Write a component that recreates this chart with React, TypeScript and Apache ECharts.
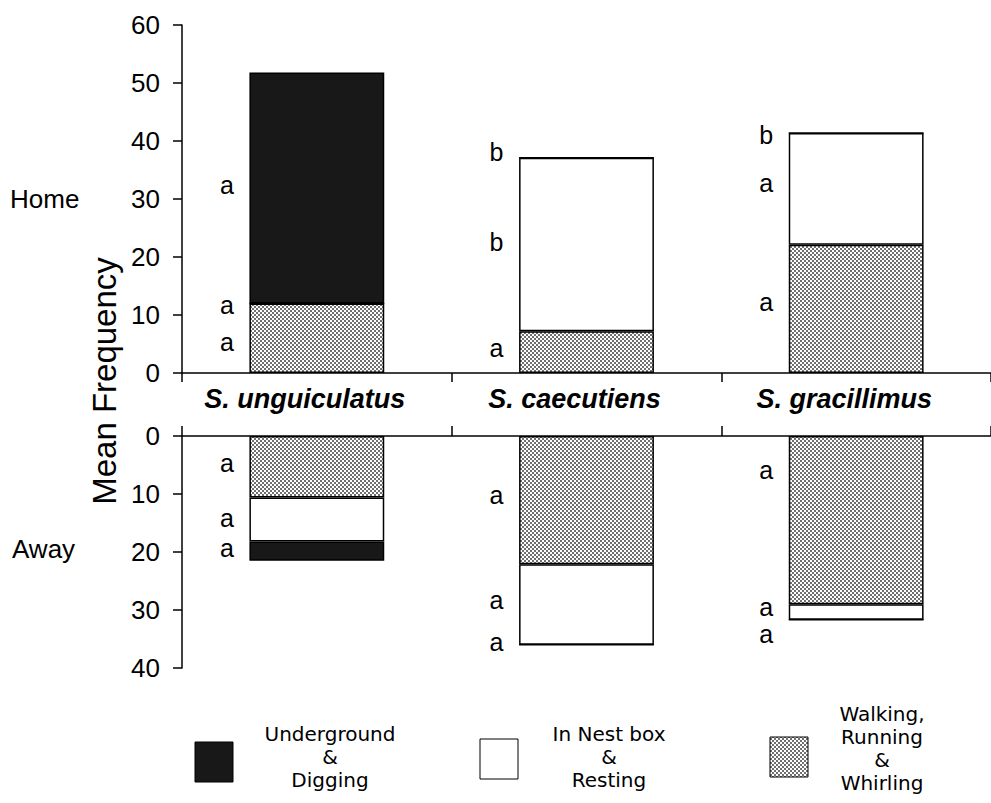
import React, { useEffect, useRef } from 'react';
import * as echarts from 'echarts';

// ---- data ----
const species = ['S. unguiculatus', 'S. caecutiens', 'S. gracillimus'];

// Home (upper panel), stacked from 0 upward
const homeWalking = [12.0, 7.2, 22.1];
const homeNest = [0, 29.9, 19.3];
const homeUnderground = [39.8, 0, 0];

// Away (lower panel), stacked from 0 downward
const awayWalking = [10.6, 22.1, 29.0];
const awayNest = [7.6, 13.9, 2.7];
const awayUnderground = [3.3, 0, 0];

const homeMax = 60;
const awayMax = 40;
const tickStep = 10;

// significance letters and the value where each is placed
const homeLetters = [['a', 'a', 'a'], ['b', 'b', 'a'], ['b', 'a', 'a']];
const homeLetterPos = [[32.4, 11.7, 5.3], [38.1, 22.6, 4.3], [41.0, 32.8, 12.2]];
const awayLetters = [['a', 'a', 'a'], ['a', 'a', 'a'], ['a', 'a', 'a']];
const awayLetterPos = [[4.7, 14.1, 19.3], [10.2, 28.3, 35.5], [5.9, 29.5, 34.2]];

const legendLabels = ['Underground\n&\nDigging', 'In Nest box\n&\nResting', 'Walking,\nRunning\n&\nWhirling'];

export default function App() {
  const ref = useRef<HTMLDivElement>(null);

  useEffect(() => {
    if (!ref.current) return;
    const chart = echarts.init(ref.current, null, { renderer: 'svg' });

    const c = document.createElement('canvas');
    c.width = 4;
    c.height = 4;
    const ctx = c.getContext('2d')!;
    ctx.fillStyle = '#ffffff';
    ctx.fillRect(0, 0, 4, 4);
    ctx.fillStyle = '#707070';
    ctx.fillRect(0, 0, 2, 2);
    ctx.fillRect(2, 2, 2, 2);
    const stipple: any = { image: c, repeat: 'repeat' };
    const black = '#181818';

    const axisLine = { show: true, lineStyle: { color: '#000', width: 1.5 } };
    const font = 'Liberation Sans';

    const mkBar = (name: string, data: number[], fill: any, grid: number, stack: string) => ({
      type: 'bar',
      barWidth: '50%',
      name,
      data,
      xAxisIndex: grid,
      yAxisIndex: grid,
      stack,
      itemStyle: { color: fill, borderColor: '#000', borderWidth: 1.5 },
    });

    const letterData = (letters: string[][], pos: number[][]) => {
      const out: any[] = [];
      letters.forEach((row, i) => {
        row.forEach((l, j) => out.push({ value: [species[i], pos[i][j]], letter: l }));
      });
      return out;
    };

    const mkLetters = (letters: string[][], pos: number[][], grid: number) => ({
      type: 'scatter',
      xAxisIndex: grid,
      yAxisIndex: grid,
      symbolSize: 1,
      itemStyle: { color: '#fff', opacity: 0 },
      data: letterData(letters, pos),
      label: {
        show: true,
        position: 'inside',
        offset: [-90, 0],
        formatter: (p: any) => p.data.letter,
        fontSize: 25,
        lineHeight: 20,
        fontFamily: font,
        color: '#000',
        opacity: 1,
        textBorderWidth: 0,
      },
      emphasis: { disabled: true },
      silent: true,
    });

    const legendX = [195, 480, 770];
    const legendBoxY = [742, 739, 737];
    const legendTextX = [330, 609, 882];
    const legendTextY = [757, 757, 748];
    const legendFills = [black, '#ffffff', stipple];

    const graphic: any[] = [
      { type: 'text', left: 10, top: 186, style: { text: 'Home', fontSize: 26, fontFamily: font, fill: '#000' } },
      { type: 'text', left: 12, top: 536, style: { text: 'Away', fontSize: 26, fontFamily: font, fill: '#000' } },
      {
        type: 'text',
        x: 104,
        y: 381,
        rotation: Math.PI / 2,
        style: { text: 'Mean Frequency', fontSize: 33, fontFamily: font, fill: '#000', align: 'center', verticalAlign: 'middle' },
      },
    ];
    legendLabels.forEach((lab, i) => {
      graphic.push({
        type: 'rect',
        shape: { x: legendX[i], y: legendBoxY[i], width: 38, height: 40 },
        style: { fill: legendFills[i], stroke: '#000', lineWidth: 1 },
      });
      graphic.push({
        type: 'text',
        x: legendTextX[i],
        y: legendTextY[i],
        style: {
          text: lab,
          fontSize: 20,
          lineHeight: 23,
          fontFamily: 'DejaVu Sans',
          fill: '#000',
          align: 'center',
          verticalAlign: 'middle',
        },
      });
    });

    chart.setOption({
      animation: false,
      backgroundColor: '#fff',
      grid: [
        { left: 182, right: -4, top: 25, height: 348 },
        { left: 182, right: -4, top: 436, height: 232 },
      ],
      xAxis: [
        {
          type: 'category',
          gridIndex: 0,
          data: species,
          position: 'bottom',
          axisLine,
          axisTick: { show: true, length: 9, lineStyle: { color: '#000', width: 1.5 } },
          axisLabel: {
            fontSize: 27,
            fontWeight: 'bold',
            fontStyle: 'italic',
            fontFamily: font,
            color: '#000',
            margin: 12,
            padding: [0, 24, 0, 0],
          },
        },
        {
          type: 'category',
          gridIndex: 1,
          data: species,
          position: 'top',
          axisLine,
          axisTick: { show: true, length: 10, lineStyle: { color: '#000', width: 1.5 } },
          axisLabel: { show: false },
        },
      ],
      yAxis: [
        {
          type: 'value',
          gridIndex: 0,
          min: 0,
          max: homeMax,
          interval: tickStep,
          axisLine,
          axisTick: { show: true, length: 9, lineStyle: { color: '#000', width: 1.5 } },
          splitLine: { show: false },
          axisLabel: { fontSize: 26, fontFamily: font, color: '#000', margin: 22 },
        },
        {
          type: 'value',
          gridIndex: 1,
          min: 0,
          max: awayMax,
          interval: tickStep,
          inverse: true,
          axisLine,
          axisTick: { show: true, length: 9, lineStyle: { color: '#000', width: 1.5 } },
          splitLine: { show: false },
          axisLabel: { fontSize: 26, fontFamily: font, color: '#000', margin: 22 },
        },
      ],
      series: [
        mkBar('Walking, Running & Whirling', homeWalking, stipple, 0, 'home'),
        mkBar('In Nest box & Resting', homeNest, '#ffffff', 0, 'home'),
        mkBar('Underground & Digging', homeUnderground, black, 0, 'home'),
        mkBar('Walking, Running & Whirling', awayWalking, stipple, 1, 'away'),
        mkBar('In Nest box & Resting', awayNest, '#ffffff', 1, 'away'),
        mkBar('Underground & Digging', awayUnderground, black, 1, 'away'),
        mkLetters(homeLetters, homeLetterPos, 0),
        mkLetters(awayLetters, awayLetterPos, 1),
      ],
      graphic,
    } as any);

    return () => chart.dispose();
  }, []);

  return (
    <div
      ref={ref}
      style={{ position: 'absolute', left: 0, top: 0, width: 991, height: 803 }}
    />
  );
}
